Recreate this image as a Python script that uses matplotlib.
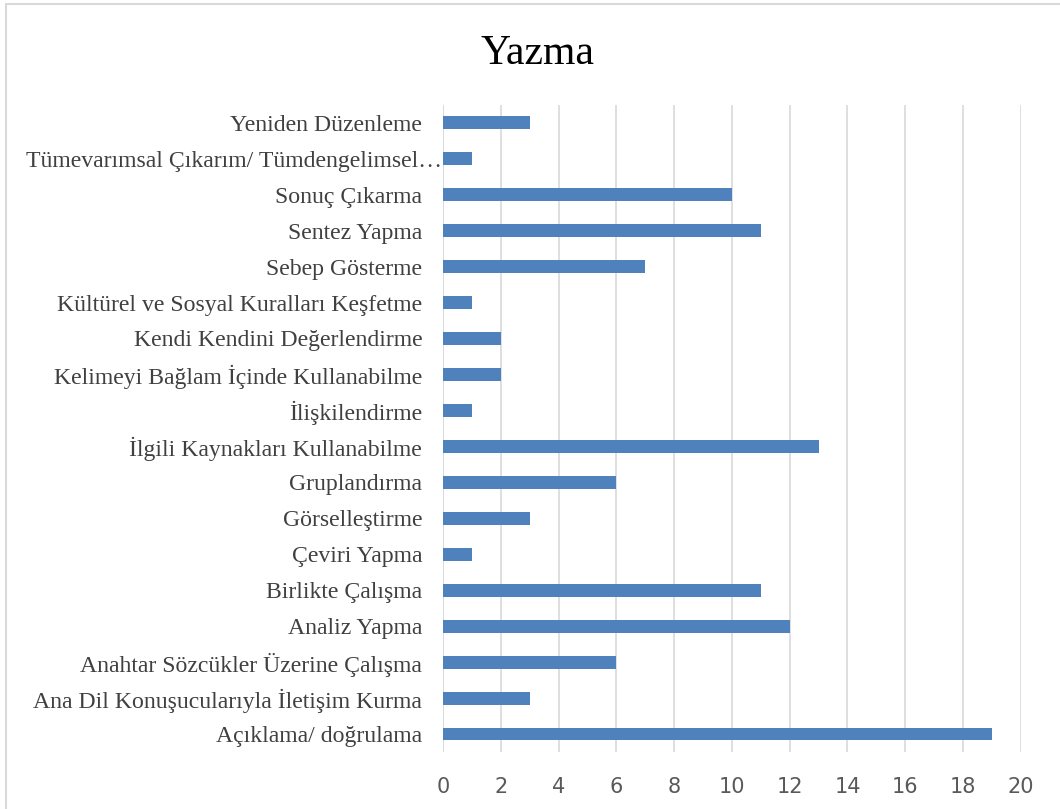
import matplotlib
matplotlib.use("Agg")
import matplotlib.pyplot as plt
import matplotlib.transforms as mtransforms
from matplotlib.patches import Rectangle

# categories, bottom to top as drawn
categories = [
    "Açıklama/ doğrulama",
    "Ana Dil Konuşucularıyla İletişim Kurma",
    "Anahtar Sözcükler Üzerine Çalışma",
    "Analiz Yapma",
    "Birlikte Çalışma",
    "Çeviri Yapma",
    "Görselleştirme",
    "Gruplandırma",
    "İlgili Kaynakları Kullanabilme",
    "İlişkilendirme",
    "Kelimeyi Bağlam İçinde Kullanabilme",
    "Kendi Kendini Değerlendirme",
    "Kültürel ve Sosyal Kuralları Keşfetme",
    "Sebep Gösterme",
    "Sentez Yapma",
    "Sonuç Çıkarma",
    "Tümevarımsal Çıkarım/ Tümdengelimsel…",
    "Yeniden Düzenleme",
]
values = [19, 3, 6, 12, 11, 1, 3, 6, 13, 1, 2, 2, 1, 7, 11, 10, 1, 3]
xticks = [0, 2, 4, 6, 8, 10, 12, 14, 16, 18, 20]

fig = plt.figure(figsize=(10.6, 8.09), dpi=100)
ax = fig.add_axes([0.418, 0.0705, 0.545, 0.80])

ax.barh(range(len(categories)), values, height=0.36, color="#4F81BD", zorder=3)
ax.set_ylim(-0.5, len(categories) - 0.5)
ax.set_xlim(0, 20)
ax.set_xticks(xticks)
ax.set_yticks(range(len(categories)))
ax.set_yticklabels(categories, family="Liberation Serif", fontsize=17.1, color="#404040")
ax.set_xticklabels([str(t) for t in xticks], family="Liberation Sans Narrow", fontsize=15, color="#595959")
ax.tick_params(axis="both", length=0)
ax.tick_params(axis="x", pad=18)
ax.tick_params(axis="y", pad=15)
ax.grid(axis="x", color="#D9D9D9", linewidth=1.2, zorder=0)
for s in ax.spines.values():
    s.set_visible(False)
ax.axvline(0, color="#D9D9D9", linewidth=1.2, zorder=1)

# the truncated label runs right up to the axis, as in the original
lbl = ax.get_yticklabels()[categories.index("Tümevarımsal Çıkarım/ Tümdengelimsel…")]
lbl.set_transform(lbl.get_transform() + mtransforms.ScaledTranslation(0.2, 0, fig.dpi_scale_trans))

fig.text(0.507, 0.934, "Yazma", ha="center", va="center",
         family="Liberation Serif", fontsize=30, color="black")

# outer chart border
fig.patches.append(Rectangle((0.006, -0.01), 1.2, 1.005, transform=fig.transFigure,
                             fill=False, edgecolor="#D9D9D9", linewidth=1.5))

fig.savefig("out.png", dpi=100, facecolor="white")
